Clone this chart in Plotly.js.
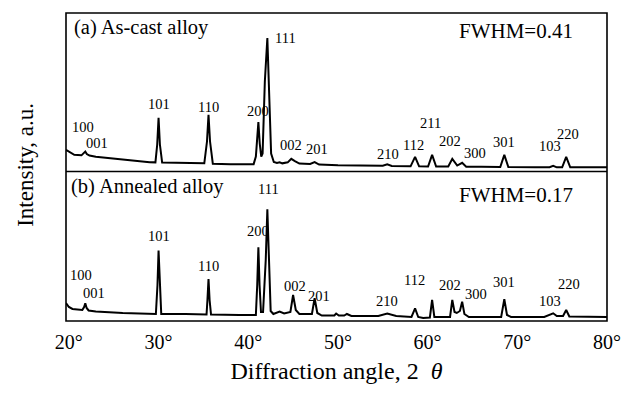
<!DOCTYPE html>
<html>
<head>
<meta charset="utf-8">
<script src="https://cdn.plot.ly/plotly-3.0.1.min.js"></script>
<style>html,body{margin:0;padding:0;background:#fff;}#chart{width:623px;height:396px;}</style>
</head>
<body>
<div id="chart"></div>
<script>
// ---- Data (2-theta in degrees, intensity in arbitrary units) ----
const thetaA = [19.68,20.2,20.6,21.4,21.65,21.83,22.0,22.3,23.0,26.0,29.0,29.65,29.85,30.0,30.15,30.4,32.0,35.1,35.4,35.57,35.74,36.05,38.0,40.6,40.85,41.0,41.13,41.28,41.45,41.6,41.85,42.13,42.35,42.55,42.85,43.2,43.5,43.8,44.4,44.8,45.2,45.7,46.9,47.4,47.9,50.0,55.0,55.5,56.0,58.1,58.6,59.05,60.05,60.5,60.95,62.3,62.75,63.3,63.85,64.3,66.0,68.1,68.55,69.0,72.0,73.6,74.0,74.4,75.0,75.45,75.9,80.0];
const intensityA = [21.7,18.5,16.7,16.2,18.5,20.0,17.5,16.0,14.7,11.7,9.4,9.2,27,53.7,27,9.0,8.7,8.2,30,56.7,30,7.9,7.4,7.4,15,35,49.4,28,15,18,90,133.4,80,18,9.5,8.5,9.3,8.2,9.2,12.7,10.5,8.0,7.6,9.4,7.0,6.2,5.8,7.2,5.6,5.2,14.7,5.2,5.0,16.7,5.0,5.0,12.7,6.0,8.7,4.8,4.7,4.6,16.7,4.6,4.3,4.3,5.7,4.2,4.2,14.7,4.2,4.2];

const thetaB = [19.68,20.0,20.4,21.5,21.7,21.83,21.98,22.2,23.0,26.0,29.7,29.88,30.0,30.12,30.3,33.0,35.35,35.45,35.57,35.69,35.85,39.0,40.85,41.0,41.13,41.26,41.42,41.65,41.95,42.13,42.3,42.5,42.8,43.5,44.0,44.7,45.0,45.3,45.7,47.1,47.4,47.7,48.2,49.6,49.8,50.1,50.7,51.0,51.5,54.5,55.5,56.5,58.2,58.6,58.95,59.5,60.25,60.5,60.75,62.5,62.75,63.0,63.25,63.6,63.85,64.1,64.6,68.2,68.55,68.85,69.3,73.0,74.0,74.4,75.1,75.45,75.8,80.0];
const intensityB = [18,14,12,11,14,17.7,13,10.5,9.5,8.0,7.0,36,70.3,36,7,7,6.5,21,42,21,6.5,6.0,6.0,36,73.7,36,9,9,61,111.7,61,10,7,9.5,7.5,9,26,11,7,7,22.7,8,5.5,5.5,7.5,5.5,5.5,7,5,5,7.5,5,4,12.7,4,3,3.5,21,4,4,21,9,8,10,19.3,7,4,4,21.7,6,4,4,7.7,5,5,11,4.5,4];

// Peak (hkl) labels
const labelsA = ["100","001","101","110","200","111","002","201","210","112","211","202","300","301","103","220"];
const labelThetaA = [21.55,23.09,30.0,35.54,41.05,44.18,44.77,47.66,55.55,58.43,60.35,62.46,65.25,68.5,73.63,75.62];
const labelIntensityA = [45,28.4,67,64.7,60.4,133.4,27,22.2,17.4,27,48.4,30.4,18.4,29.2,25.9,37.5];

const labelsB = ["100","001","101","110","200","111","002","201","210","112","202","300","301","103","220"];
const labelThetaB = [21.3,22.85,30.0,35.54,41.04,42.26,45.24,47.94,55.52,58.53,62.54,65.4,68.56,73.67,75.8];
const labelIntensityB = [45.7,27.7,84.8,55.2,90.2,131.5,35.2,25.2,20.2,40.5,36,26.8,38.5,19.7,36.8];

const tickValues = [20,30,40,50,60,70,80];
const tickLabels = ["20°","30°","40°","50°","60°","70°","80°"];
const innerTicks = [30,40,50,60,70];

const panelTitles = ["(a) As-cast alloy","(b) Annealed alloy"];
const fwhmTexts = ["FWHM=0.41","FWHM=0.17"];

// ---- Plot ----
const serif = "Liberation Serif, Times New Roman, serif";
const split = 0.4852;

const traces = [
  {x: thetaA, y: intensityA, xaxis: "x", yaxis: "y2", type: "scatter", mode: "lines",
   line: {color: "#000", width: 2}, hoverinfo: "skip", showlegend: false},
  {x: thetaB, y: intensityB, xaxis: "x", yaxis: "y", type: "scatter", mode: "lines",
   line: {color: "#000", width: 2}, hoverinfo: "skip", showlegend: false}
];

const annotations = [];
labelsA.forEach((t, i) => annotations.push({x: labelThetaA[i], y: labelIntensityA[i], xref: "x", yref: "y2",
  text: t, showarrow: false, xanchor: "center", yanchor: "middle", font: {family: serif, size: 14.5, color: "#000"}}));
labelsB.forEach((t, i) => annotations.push({x: labelThetaB[i], y: labelIntensityB[i], xref: "x", yref: "y",
  text: t, showarrow: false, xanchor: "center", yanchor: "middle", font: {family: serif, size: 14.5, color: "#000"}}));

annotations.push({x: 0.011, y: 0.954, xref: "paper", yref: "paper", text: panelTitles[0], showarrow: false,
  xanchor: "left", yanchor: "middle", font: {family: serif, size: 20.5, color: "#000"}});
annotations.push({x: 0.0055, y: 0.437, xref: "paper", yref: "paper", text: panelTitles[1], showarrow: false,
  xanchor: "left", yanchor: "middle", font: {family: serif, size: 20.5, color: "#000"}});
annotations.push({x: 0.941, y: 0.941, xref: "paper", yref: "paper", text: fwhmTexts[0], showarrow: false,
  xanchor: "right", yanchor: "middle", font: {family: serif, size: 21, color: "#000"}});
annotations.push({x: 0.941, y: 0.408, xref: "paper", yref: "paper", text: fwhmTexts[1], showarrow: false,
  xanchor: "right", yanchor: "middle", font: {family: serif, size: 21, color: "#000"}});
annotations.push({x: -0.074, y: 0.507, xref: "paper", yref: "paper", text: "Intensity, a.u.", showarrow: false,
  textangle: -90, xanchor: "center", yanchor: "middle", font: {family: serif, size: 23, color: "#000"}});

const layout = {
  width: 623, height: 396,
  margin: {l: 66, r: 16, t: 13, b: 75},
  paper_bgcolor: "#fff", plot_bgcolor: "#fff",
  showlegend: false,
  xaxis: {range: [19.68, 80.0], tickmode: "array", tickvals: tickValues, ticktext: tickLabels,
    ticks: "", showline: false, showgrid: false, zeroline: false, anchor: "y",
    tickfont: {family: serif, size: 20, color: "#000"}, ticklabelstandoff: 7,
    title: {text: "Diffraction angle, 2\u00a0\u00a0<i>θ</i>", font: {family: serif, size: 24, color: "#000"}, standoff: 10}},
  xaxis2: {range: [19.68, 80.0], overlaying: "x", anchor: "y", side: "bottom", tickmode: "array", tickvals: innerTicks,
    ticks: "inside", ticklen: 6, tickwidth: 1.5, tickcolor: "#000", showticklabels: false,
    showline: false, showgrid: false, zeroline: false},
  yaxis: {domain: [0, split], range: [0, 149.3], visible: false, fixedrange: true},
  yaxis2: {domain: [split, 1], range: [0, 158.4], visible: false, fixedrange: true, anchor: "x"},
  shapes: [
    {type: "rect", xref: "paper", yref: "paper", x0: 0, x1: 1, y0: 0, y1: 1, line: {color: "#000", width: 1.6}},
    {type: "line", xref: "paper", yref: "paper", x0: 0, x1: 1, y0: split, y1: split, line: {color: "#000", width: 1.6}}
  ],
  annotations: annotations
};

Plotly.newPlot("chart", traces, layout, {staticPlot: true, displayModeBar: false});
</script>
</body>
</html>
